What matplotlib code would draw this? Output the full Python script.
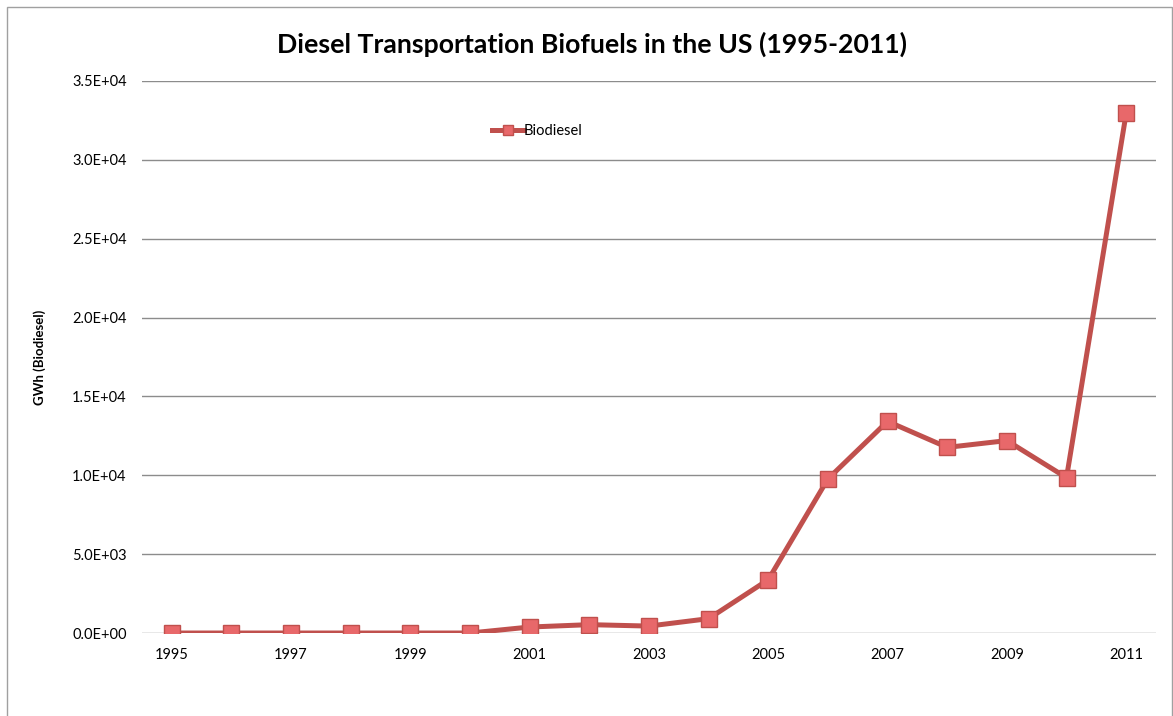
import numpy as np
import matplotlib
matplotlib.use("Agg")
import matplotlib.pyplot as plt
from matplotlib.patches import Rectangle
from matplotlib.ticker import FuncFormatter

plt.rcParams["font.family"] = ["Lato", "DejaVu Sans"]

# data
years = [1995, 1996, 1997, 1998, 1999, 2000, 2001, 2002, 2003,
         2004, 2005, 2006, 2007, 2008, 2009, 2010, 2011]
biodiesel_gwh = [0, 0, 0, 0, 0, 0, 380, 530, 440,
                 910, 3380, 9770, 13420, 11770, 12200, 9850, 32950]
year_labels = [str(y) if (y - 1995) % 2 == 0 else "" for y in years]
y_ticks = np.arange(0, 35001, 5000)

fig = plt.figure(figsize=(11.73, 7.16), dpi=100)
ax = fig.add_axes([0.121, 0.1159, 0.8645, 0.771])

# outer chart border
fig.patches.append(Rectangle((6.5 / 1173, -0.01), 1 - 7.5 / 1173, 1 - 6.5 / 716 + 0.01,
                             transform=fig.transFigure, fill=False,
                             edgecolor="#A0A0A0", linewidth=1.0))

x = np.arange(len(years))
ax.plot(x, biodiesel_gwh, color="#C0504D", linewidth=3.6, marker="s",
        markersize=11, markerfacecolor="#E8686A", markeredgecolor="#C0504D",
        markeredgewidth=1.0, label="Biodiesel", zorder=3)

ax.set_xlim(-0.5, len(years) - 0.5)
ax.set_ylim(0, 35000)
ax.set_xticks(x)
ax.set_xticklabels(year_labels)
ax.set_yticks(y_ticks)
ax.yaxis.set_major_formatter(FuncFormatter(lambda v, p: f"{v:.1E}"))
ax.tick_params(axis="both", length=0, labelsize=10.5, colors="#000000")
ax.tick_params(axis="x", pad=11)
ax.tick_params(axis="y", pad=11)

ax.grid(axis="y", color="#8C8C8C", linewidth=1.0)
ax.set_axisbelow(True)
for side in ["top", "right", "left", "bottom"]:
    ax.spines[side].set_visible(False)

ax.set_ylabel("GWh (Biodiesel)", fontsize=9.5, fontweight="bold")
ax.yaxis.set_label_coords(-0.095, 0.5)

fig.text(0.505, 0.938, "Diesel Transportation Biofuels in the US (1995-2011)",
         ha="center", va="center", fontsize=19.2, fontweight="bold")

ax.legend(loc="upper left", bbox_to_anchor=(0.332, 0.946), frameon=False,
          fontsize=10.5, handlelength=2.2, handletextpad=0.0, markerscale=0.7)

fig.savefig("out.png", dpi=100)
